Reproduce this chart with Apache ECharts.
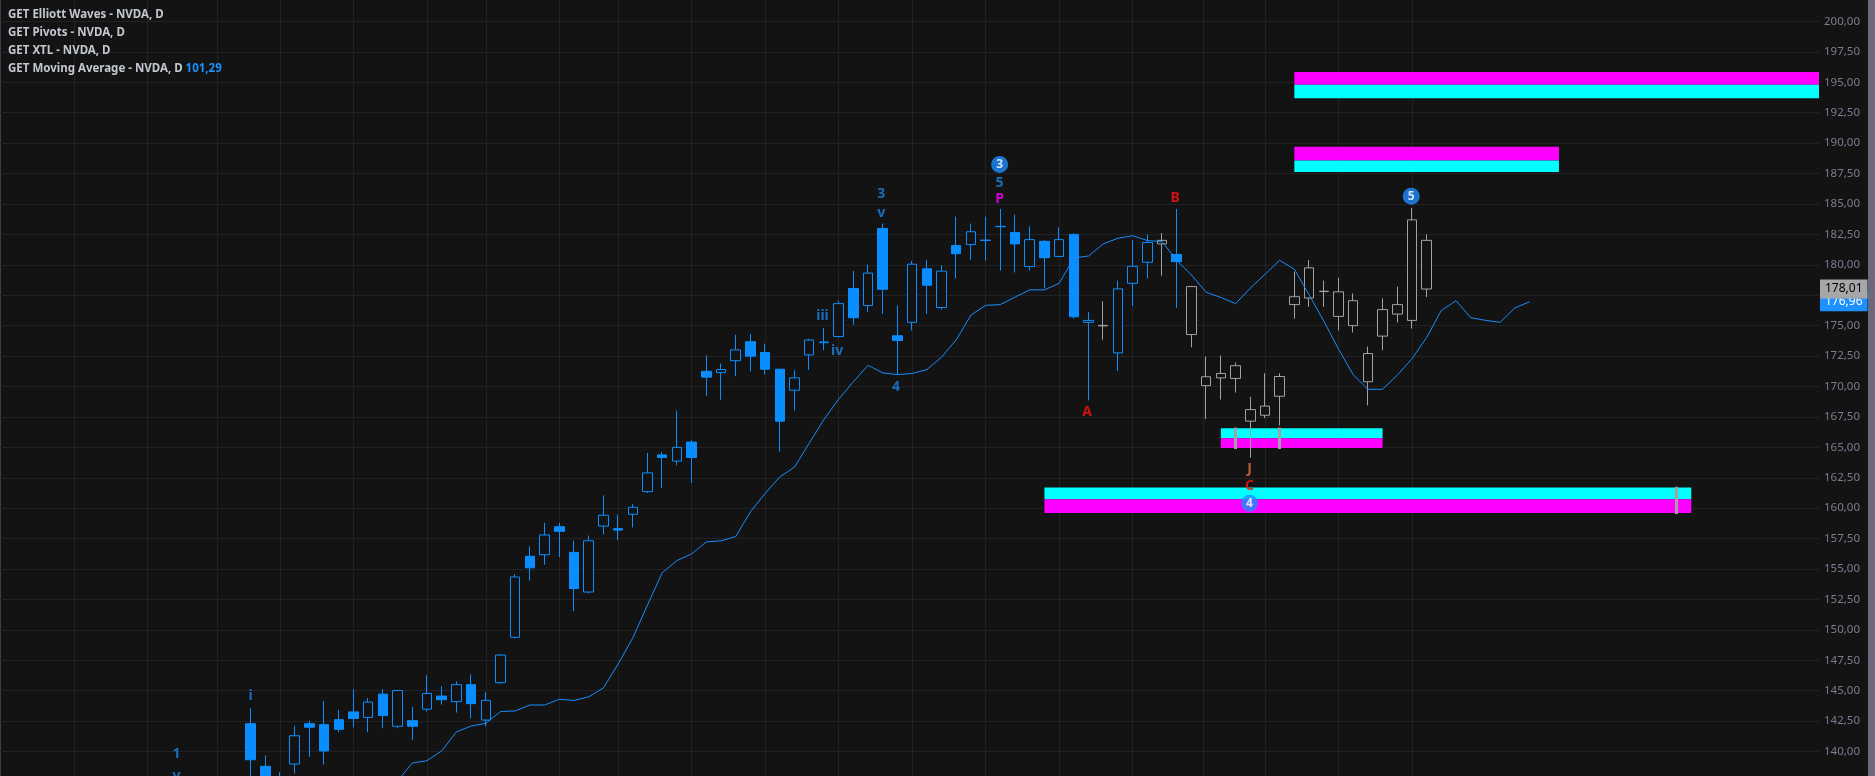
<!DOCTYPE html>
<html>
<head>
<meta charset="utf-8">
<script src="https://cdn.jsdelivr.net/npm/echarts@6/dist/echarts.min.js"></script>
<style>
html, body { margin: 0; padding: 0; background: #131313; width: 1875px; height: 776px; overflow: hidden; position: relative; }
/* the price scale runs past the window edges, so the chart box is taller than the page */
#chart { position: absolute; left: 0; top: -15px; width: 1875px; height: 803px; }
</style>
</head>
<body>
<div id="chart"></div>
<script>
// NVDA daily bars, index 0 = the "i" bar
const opens = [142.29, 138.79, 137.4, 138.98, 142.29, 142.21, 142.62, 143.26, 142.81, 144.72,
    142.08, 142.54, 143.48, 144.56, 144.10, 145.50, 142.59, 145.66, 149.39, 156.05,
    156.18, 158.48, 156.37, 153.11, 158.53, 158.32, 159.50, 161.36, 164.38, 163.87,
    165.43, 171.25, 171.14, 172.12, 173.68, 172.79, 171.42, 169.69, 172.60, 173.60,
    174.11, 178.05, 176.65, 182.99, 174.17, 175.27, 179.67, 176.49, 181.58, 181.66,
    182.00, 183.13, 182.66, 179.86, 181.93, 180.69, 182.50, 175.27, 175.02, 172.76,
    178.48, 180.21, 182.01, 180.85, 178.21, 170.07, 171.07, 170.66, 168.10, 167.64,
    169.20, 176.73, 179.75, 177.80, 175.76, 177.05, 172.71, 174.14, 175.95, 175.43,
    182.01]
const closes = [139.33, 137.6, 137.9, 141.30, 142.00, 140.05, 141.83, 142.72, 144.07, 142.97,
    145.02, 142.08, 144.77, 144.26, 145.50, 143.94, 144.21, 147.93, 154.35, 155.10,
    157.80, 158.10, 153.40, 157.32, 159.42, 158.20, 160.07, 162.90, 164.17, 165.00,
    164.17, 170.77, 171.39, 173.01, 172.49, 171.42, 167.15, 170.71, 173.82, 173.66,
    176.81, 175.65, 179.32, 177.99, 173.79, 180.05, 178.32, 179.48, 180.91, 182.72,
    182.03, 183.16, 181.72, 182.07, 180.58, 182.07, 175.73, 175.43, 174.98, 178.02,
    179.88, 181.83, 181.72, 180.26, 174.27, 170.80, 170.71, 171.71, 167.15, 168.39,
    170.82, 177.38, 177.27, 177.83, 177.78, 175.00, 170.39, 176.32, 176.73, 183.69,
    178.01]
const lows = [137.9, 137.0, 136.6, 138.2, 139.57, 138.92, 141.59, 142.00, 141.59, 141.92,
    141.92, 140.94, 143.29, 143.86, 143.21, 142.72, 142.08, 145.56, 149.30, 154.05,
    155.35, 155.99, 151.54, 153.00, 157.85, 157.37, 158.42, 161.25, 161.66, 163.52,
    162.06, 169.23, 168.91, 170.85, 171.25, 171.01, 164.65, 168.02, 171.36, 172.98,
    174.03, 175.08, 176.13, 175.97, 170.98, 174.60, 175.97, 176.30, 178.89, 180.42,
    180.34, 179.53, 179.37, 179.53, 178.08, 180.69, 175.57, 168.85, 173.84, 171.28,
    176.62, 178.89, 179.10, 176.46, 173.22, 167.32, 168.93, 169.50, 164.16, 167.40,
    166.80, 175.57, 176.54, 176.54, 174.60, 174.44, 168.45, 172.98, 175.25, 174.76,
    177.35]
const highs = [143.56, 139.70, 138.3, 142.13, 142.54, 144.15, 143.43, 145.12, 144.40, 145.12,
    145.02, 143.67, 146.26, 145.37, 145.77, 146.34, 144.88, 148.01, 154.59, 156.86,
    158.80, 158.80, 157.34, 157.75, 161.06, 159.47, 160.34, 164.54, 164.62, 168.02,
    165.59, 172.55, 171.90, 174.26, 174.33, 173.52, 171.47, 171.33, 173.92, 174.81,
    177.05, 179.51, 180.00, 183.39, 176.67, 180.32, 180.40, 179.96, 183.96, 183.39,
    183.96, 184.60, 184.12, 183.15, 182.04, 183.07, 182.58, 176.11, 177.00, 178.70,
    182.04, 182.50, 182.61, 184.60, 178.27, 172.47, 172.55, 171.98, 169.15, 171.09,
    171.09, 179.43, 180.40, 178.70, 178.94, 177.65, 173.28, 177.24, 178.21, 184.66,
    182.50]
// bars the wave tool paints grey
const grayBars = [58, 62, 64, 65, 66, 67, 68, 69, 70, 71, 72, 73, 74, 75, 76, 77, 78, 79, 80]

// displaced moving average, first value at bar 9
const maStart = 9
const maValues = [136.8, 137.6, 139.06, 139.25, 140.06, 141.62, 142.10, 142.32, 143.29, 143.34,
    143.83, 143.83, 144.30, 144.20, 144.50, 145.23, 147.20, 149.35, 152.05, 154.70,
    155.70, 156.24, 157.23, 157.32, 157.67, 159.70, 161.22, 162.57, 163.38, 165.35,
    167.29, 168.96, 170.39, 171.74, 171.12, 170.98, 171.07, 171.39, 172.41, 173.84,
    175.87, 176.67, 176.73, 177.35, 177.94, 177.94, 178.48, 180.56, 180.72, 181.72,
    182.18, 182.39, 181.99, 181.91, 180.37, 179.16, 177.75, 177.32, 176.81, 178.08,
    179.21, 180.37, 179.64, 177.54, 175.38, 173.09, 170.98, 169.77, 169.77, 170.93,
    172.28, 174.03, 176.25, 177.05, 175.65, 175.44, 175.27, 176.46, 176.96]
const maLabel = '101,29'

// week separators (bar positions)
const weekLines = [-12, -7.03, -2.27, 2, 7, 12, 16, 21, 25, 30, 35, 40, 45, 50, 55, 60, 64.8, 69, 74, 79]

// XTL zones: from bar, to bar, upper, middle, lower price; kind decides which half is magenta
const zones = [
    { from: 71, to: 106.69, upper: 195.85, middle: 194.80, lower: 193.69, kind: 'resistance' },
    { from: 71, to: 89, upper: 189.70, middle: 188.57, lower: 187.62, kind: 'resistance' },
    { from: 66, to: 77, upper: 166.56, middle: 165.75, lower: 164.94, kind: 'support' },
    { from: 54, to: 98, upper: 161.70, middle: 160.73, lower: 159.60, kind: 'support' },
]
// XTL ticks: bar, top, bottom
const xtlTicks = [[67, 166.62, 164.86], [70, 166.62, 164.86], [97, 161.76, 159.52]]

// wave labels: text, bar, price, kind
const waveLabels = [
    ['1', -5.05, 139.84, 'wave'], ['v', -5.05, 138.0, 'wave'], ['i', 0, 144.56, 'wave'],
    ['iii', 38.9, 175.78, 'wave'], ['iv', 39.9, 172.95, 'wave'],
    ['3', 42.9, 185.82, 'wave'], ['v', 42.9, 184.28, 'wave'], ['4', 43.9, 169.94, 'wave'],
    ['5', 50.95, 186.76, 'wave'], ['P', 50.95, 185.41, 'pivot'],
    ['A', 56.9, 167.88, 'abc'], ['B', 62.9, 185.49, 'abc'],
    ['J', 67.95, 163.24, 'j'], ['C', 67.95, 161.84, 'abc'],
]
const circledWaves = [['3', 50.95, 188.24], ['5', 78.95, 185.63], ['4', 67.95, 160.41]]

const bg = '#131313'
const blue = '#0a8eff'
const gray = '#a2a2a6'
const gridColor = '#222226'
const labelColors = { wave: '#1a86e6', pivot: '#ff00ff', abc: '#ff1212', j: '#e8703e' }

const fmt = v => v.toFixed(2).replace('.', ',')

const candleData = opens.map((o, i) => {
    const item = { value: [i, o, closes[i], lows[i], highs[i]] }
    if (grayBars.includes(i)) {
        item.itemStyle = { color: bg, color0: gray, borderColor: gray, borderColor0: gray }
    }
    return item
})
const maData = maValues.map((v, i) => [maStart + i, v])

const zoneAreas = []
zones.forEach(z => {
    const top = z.kind === 'resistance' ? '#ff00ff' : '#00ffff'
    const bottom = z.kind === 'resistance' ? '#00ffff' : '#ff00ff'
    zoneAreas.push([{ xAxis: z.from, yAxis: z.upper, itemStyle: { color: top } }, { xAxis: z.to, yAxis: z.middle }])
    zoneAreas.push([{ xAxis: z.from, yAxis: z.middle, itemStyle: { color: bottom } }, { xAxis: z.to, yAxis: z.lower }])
})

const chart = echarts.init(document.getElementById('chart'))
chart.setOption({
    animation: false,
    backgroundColor: bg,
    textStyle: { fontFamily: 'Noto Sans' },
    title: {
        left: 3,
        top: 16,
        text: '{t|GET Elliott Waves - NVDA, D}\n{t|GET Pivots - NVDA, D}\n{t|GET XTL - NVDA, D}\n{t|GET Moving Average - NVDA, D }{v|' + maLabel + '}',
        textStyle: {
            rich: {
                t: { color: '#c3c7cf', fontSize: 11.5, lineHeight: 18 },
                v: { color: '#1e90ff', fontSize: 11.5, lineHeight: 18 },
            },
        },
    },
    graphic: [
        { type: 'rect', right: 0, top: 0, shape: { width: 7, height: 803 }, style: { fill: '#676b7d' } },
        { type: 'rect', left: 0, top: 0, shape: { width: 1, height: 803 }, style: { fill: '#3a3d4a' } },
    ],
    grid: { left: 0, right: 56, top: 0, bottom: 0 },
    xAxis: {
        type: 'value',
        min: -17.05,
        max: 106.69,
        axisLine: { show: false },
        axisTick: { show: false },
        axisLabel: { show: false },
        splitLine: { show: false },
    },
    yAxis: {
        type: 'value',
        position: 'right',
        min: 137.5,
        max: 202.5,
        interval: 2.5,
        axisLine: { show: false },
        axisTick: { show: false },
        axisLabel: { color: '#7a7e8e', fontSize: 11.5, margin: 5, formatter: fmt },
        splitLine: { lineStyle: { color: gridColor, width: 1 } },
    },
    series: [
        {
            name: 'weeks',
            type: 'line',
            data: [],
            silent: true,
            markLine: {
                z: 0,
                silent: true,
                symbol: ['none', 'none'],
                label: { show: false },
                lineStyle: { color: gridColor, width: 1, type: 'solid' },
                data: weekLines.map(k => ({ xAxis: k })),
            },
            markArea: {
                z: 1,
                silent: true,
                label: { show: false },
                data: zoneAreas,
            },
        },
        {
            name: 'NVDA',
            type: 'candlestick',
            z: 2,
            barWidth: 10,
            itemStyle: { color: bg, color0: blue, borderColor: blue, borderColor0: blue, borderWidth: 1 },
            data: candleData,
            markLine: {
                z: 8,
                silent: true,
                symbol: ['none', 'none'],
                lineStyle: { color: 'rgba(0,0,0,0)', width: 0 },
                label: {
                    position: 'end', distance: 1, formatter: p => fmt(p.value),
                    backgroundColor: '#a7a7aa', color: '#000', fontSize: 12, lineHeight: 14, padding: [3, 5, 2, 5],
                },
                data: [{ yAxis: closes[closes.length - 1] }],
            },
        },
        {
            name: 'MA',
            type: 'line',
            z: 3,
            data: maData,
            showSymbol: false,
            lineStyle: { color: '#1a8cff', width: 1 },
            markLine: {
                z: 7,
                silent: true,
                symbol: ['none', 'none'],
                lineStyle: { color: 'rgba(0,0,0,0)', width: 0 },
                label: {
                    position: 'end', distance: 1, formatter: p => fmt(p.value),
                    backgroundColor: '#1e90ff', color: '#fff', fontSize: 12, lineHeight: 14, padding: [3, 5, 2, 5],
                },
                data: [{ yAxis: maValues[maValues.length - 1] }],
            },
        },
        {
            name: 'xtl',
            type: 'line',
            data: [],
            silent: true,
            markLine: {
                z: 4,
                silent: true,
                symbol: ['none', 'none'],
                label: { show: false },
                lineStyle: { color: gray, width: 3, type: 'solid' },
                data: xtlTicks.map(t => [{ coord: [t[0], t[1]] }, { coord: [t[0], t[2]] }]),
            },
        },
        {
            name: 'waves',
            type: 'scatter',
            z: 10,
            symbolSize: 1,
            itemStyle: { color: 'rgba(0,0,0,0)' },
            label: { show: true, position: 'inside', fontSize: 14, fontWeight: 'bold' },
            data: waveLabels.map(w => ({
                value: [w[1], w[2]],
                label: { formatter: w[0], color: labelColors[w[3]] },
            })),
        },
        {
            name: 'circled',
            type: 'scatter',
            z: 11,
            symbol: 'circle',
            symbolSize: 17,
            itemStyle: { color: '#1e8fff' },
            label: { show: true, position: 'inside', color: '#fff', fontSize: 12, fontWeight: 'bold' },
            data: circledWaves.map(w => ({ value: [w[1], w[2]], label: { formatter: w[0] } })),
        },
    ],
})
</script>
</body>
</html>
